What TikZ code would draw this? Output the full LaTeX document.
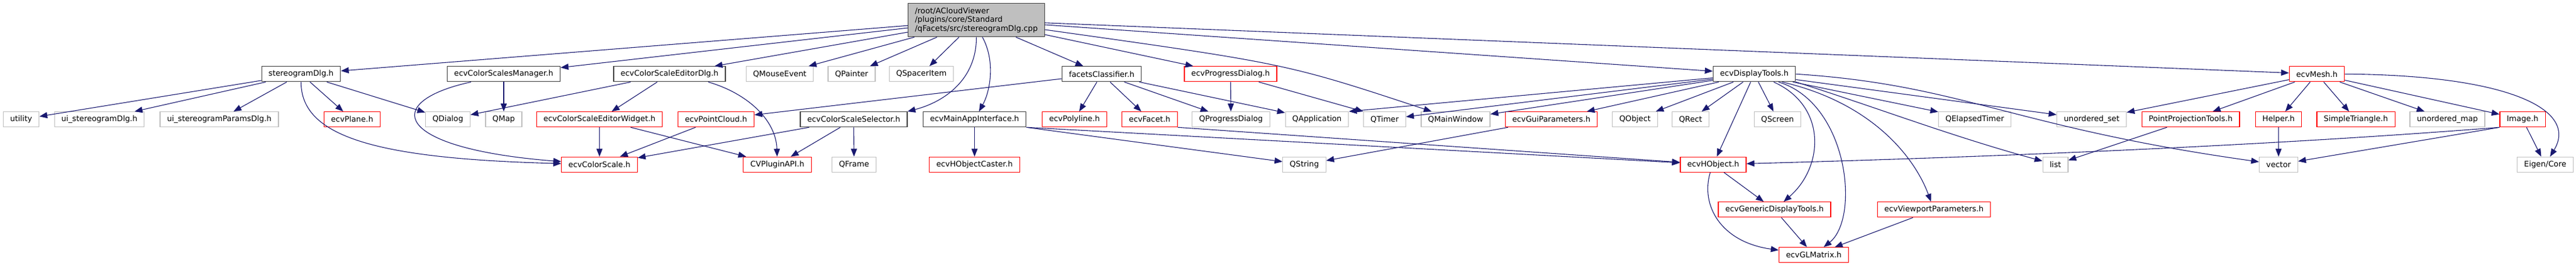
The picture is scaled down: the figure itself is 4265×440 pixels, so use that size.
\documentclass[tikz,border=0pt]{standalone}
\usepackage{fontspec}
\setmainfont{DejaVu Sans}
\usepackage{tikz}
\usetikzlibrary{arrows.meta}
\definecolor{dxred}{HTML}{FF0000}
\definecolor{dxgray}{HTML}{BFBFBF}
\definecolor{dxdark}{HTML}{404040}
\definecolor{dxedge}{HTML}{191970}
\begin{document}
\begin{tikzpicture}[x=1pt,y=-1pt,
    box/.style={draw,line width=1.2pt,font=\fontsize{12.8}{14.7}\selectfont,
        minimum height=25pt,inner xsep=11.5pt,inner ysep=0pt},
    doc/.style={box,draw=dxdark},
    trunc/.style={box,draw=dxred},
    ext/.style={box,draw=dxgray},
    dep/.style={-{Triangle[length=13pt,width=10pt]},draw=dxedge,line width=1.1pt}]
            \useasboundingbox (0,0) rectangle (4265,440);
            %\draw[very thin,color=gray] (0,0) grid[step=100] (4265,440);
            \node[doc,fill=dxgray,minimum height=55pt,align=left] (root) at (1616.5,33.2)
                {/root/ACloudViewer\\/plugins/core/Standard\\/qFacets/src/stereogramDlg.cpp};
            % includes of the .cpp
            \node[doc] (stDlg) at (498.5,122.3) {stereogramDlg.h};
            \node[doc] (csMgr) at (834,122.3) {ecvColorScalesManager.h};
            \node[doc] (csEdDlg) at (1108.5,122.3) {ecvColorScaleEditorDlg.h};
            \node[ext] (qMouse) at (1291,122.3) {QMouseEvent};
            \node[ext] (qPainter) at (1410,122.3) {QPainter};
            \node[ext] (qSpacer) at (1525.5,122.3) {QSpacerItem};
            \node[doc] (facets) at (1824,122.3) {facetsClassifier.h};
            \node[trunc] (progDlg) at (2037.5,122.3) {ecvProgressDialog.h};
            \node[doc] (dispTools) at (2904.5,122.3) {ecvDisplayTools.h};
            \node[trunc] (mesh) at (3836,122.3) {ecvMesh.h};
            % third row
            \node[ext] (utility) at (35,197.2) {utility};
            \node[ext] (uiStDlg) at (164.5,197.2) {ui\_stereogramDlg.h};
            \node[ext] (uiParDlg) at (363,197.2) {ui\_stereogramParamsDlg.h};
            \node[trunc] (plane) at (583,197.2) {ecvPlane.h};
            \node[ext] (qDialog) at (741.5,197.2) {QDialog};
            \node[ext] (qMap) at (834,197.2) {QMap};
            \node[trunc] (csEdWid) at (992.5,197.2) {ecvColorScaleEditorWidget.h};
            \node[trunc] (pointCloud) at (1185.5,197.2) {ecvPointCloud.h};
            \node[doc] (csSel) at (1413.5,197.2) {ecvColorScaleSelector.h};
            \node[doc] (mainApp) at (1613.5,197.2) {ecvMainAppInterface.h};
            \node[trunc] (polyline) at (1779,197.2) {ecvPolyline.h};
            \node[trunc] (facet) at (1903.5,197.2) {ecvFacet.h};
            \node[ext] (qProgDlg) at (2038,197.2) {QProgressDialog};
            \node[ext] (qApp) at (2180.5,197.2) {QApplication};
            \node[ext] (qTimer) at (2292.5,197.2) {QTimer};
            \node[ext] (qMainWin) at (2410,197.2) {QMainWindow};
            \node[trunc] (guiParams) at (2568.5,197.2) {ecvGuiParameters.h};
            \node[ext] (qObject) at (2707,197.2) {QObject};
            \node[ext] (qRect) at (2799,197.2) {QRect};
            \node[ext] (qScreen) at (2943,197.2) {QScreen};
            \node[ext] (qElapsed) at (3269.5,197.2) {QElapsedTimer};
            \node[ext] (uSet) at (3463,197.2) {unordered\_set};
            \node[trunc] (ppTools) at (3627,197.2) {PointProjectionTools.h};
            \node[trunc] (helper) at (3772.5,197.2) {Helper.h};
            \node[trunc] (simpleTri) at (3900.5,197.2) {SimpleTriangle.h};
            \node[ext] (uMap) at (4052,197.2) {unordered\_map};
            \node[trunc] (image) at (4176.5,197.2) {Image.h};
            % fourth row
            \node[trunc] (colScale) at (992.5,271.8) {ecvColorScale.h};
            \node[trunc] (cvPlugin) at (1287,271.8) {CVPluginAPI.h};
            \node[ext] (qFrame) at (1414,271.8) {QFrame};
            \node[trunc] (hObjCaster) at (1613.5,271.8) {ecvHObjectCaster.h};
            \node[ext] (qString) at (2159.5,271.8) {QString};
            \node[trunc] (hObj) at (2836.5,271.8) {ecvHObject.h};
            \node[ext] (list) at (3403,271.8) {list};
            \node[ext] (vector) at (3772.5,271.8) {vector};
            \node[ext] (eigen) at (4214,271.8) {Eigen/Core};
            % last rows
            \node[trunc] (genDisp) at (2938,346.3) {ecvGenericDisplayTools.h};
            \node[trunc] (viewport) at (3202,346.3) {ecvViewportParameters.h};
            \node[trunc] (glMatrix) at (3003,421.2) {ecvGLMatrix.h};

            % edges from the .cpp
            \draw[dep] (root) -- (stDlg);
            \draw[dep] (root) -- (csMgr);
            \draw[dep] (root) -- (csEdDlg);
            \draw[dep] (root) -- (qMouse);
            \draw[dep] (root) -- (qPainter);
            \draw[dep] (root) -- (qSpacer);
            \draw[dep] (root.south) .. controls (1617,130) and (1565,168) .. (csSel.north east);
            \draw[dep] ([xshift=10]root.south) .. controls (1648,100) and (1640,150) .. (mainApp);
            \draw[dep] (root) -- (facets);
            \draw[dep] (root) -- (progDlg);
            \draw[dep] (root) .. controls (2130,105) .. (qMainWin);
            \draw[dep] (root) -- (dispTools);
            \draw[dep] (root) -- (mesh);
            % stereogramDlg.h
            \draw[dep] (stDlg) -- (utility);
            \draw[dep] (stDlg) -- (uiStDlg);
            \draw[dep] (stDlg) -- (uiParDlg);
            \draw[dep] (stDlg) -- (plane);
            \draw[dep] (stDlg) -- (qDialog);
            \draw[dep] (stDlg.south) .. controls (498,225) and (620,262) .. (colScale);
            % colour scale headers
            \draw[dep] (csMgr) -- (qMap);
            \draw[dep] ([xshift=-54]csMgr.south) .. controls (630,168) and (650,245) .. (colScale);
            \draw[dep] (csEdDlg) -- (qDialog);
            \draw[dep] (csEdDlg) -- (csEdWid);
            \draw[dep] ([xshift=64]csEdDlg.south) .. controls (1240,155) and (1285,200) .. (cvPlugin);
            \draw[dep] (csEdWid) -- (colScale);
            \draw[dep] (csEdWid) -- (cvPlugin);
            \draw[dep] (pointCloud) -- (colScale);
            \draw[dep] (csSel) -- (colScale);
            \draw[dep] (csSel) -- (cvPlugin);
            \draw[dep] (csSel) -- (qFrame);
            % main app, facets, progress
            \draw[dep] (mainApp) -- (hObjCaster);
            \draw[dep] (mainApp.south east) -- (qString);
            \draw[dep] (mainApp.south east) -- (hObj);
            \draw[dep] (facets) -- (pointCloud);
            \draw[dep] (facets) -- (polyline);
            \draw[dep] (facets) -- (facet);
            \draw[dep] (facets) -- (qProgDlg);
            \draw[dep] (facets) -- (qApp);
            \draw[dep] (facet.south east) -- (hObj);
            \draw[dep] (progDlg) -- (qProgDlg);
            \draw[dep] (progDlg) -- (qTimer.north west);
            \draw[dep] (guiParams) -- (qString);
            % ecvDisplayTools.h
            \draw[dep] (dispTools) -- (qApp.north east);
            \draw[dep] (dispTools) -- (qTimer);
            \draw[dep] (dispTools) -- (qMainWin);
            \draw[dep] (dispTools) -- (guiParams);
            \draw[dep] (dispTools) -- (qObject);
            \draw[dep] (dispTools) -- (qRect);
            \draw[dep] (dispTools) -- (hObj);
            \draw[dep] (dispTools) -- (qScreen);
            \draw[dep] ([xshift=32]dispTools.south) .. controls (3025,175) and (3020,275) .. (genDisp);
            \draw[dep] ([xshift=40]dispTools.south) .. controls (3060,170) and (3080,360) .. (glMatrix);
            \draw[dep] ([xshift=46]dispTools.south) .. controls (3100,170) and (3170,260) .. (viewport);
            \draw[dep] (dispTools) -- (qElapsed);
            \draw[dep] (dispTools) -- (uSet);
            \draw[dep] (dispTools.south east) .. controls (3100,175) and (3230,225) .. (list);
            \draw[dep] (dispTools.east) .. controls (3250,140) and (3330,210) .. (vector);
            \draw[dep] (hObj) -- (genDisp);
            \draw[dep] ([xshift=-5]hObj.south) .. controls (2815,340) and (2850,400) .. (glMatrix);
            \draw[dep] (genDisp) -- (glMatrix);
            \draw[dep] (viewport) -- (glMatrix);
            % ecvMesh.h
            \draw[dep] (mesh) -- (uSet);
            \draw[dep] (mesh) -- (ppTools);
            \draw[dep] (mesh) -- (helper);
            \draw[dep] (mesh) -- (simpleTri);
            \draw[dep] (mesh) -- (uMap);
            \draw[dep] (mesh) -- (image);
            \draw[dep] (mesh.east) .. controls (4150,124) and (4270,180) .. (eigen);
            \draw[dep] (ppTools) -- (list);
            \draw[dep] (helper) -- (vector);
            \draw[dep] (image.south west) .. controls (3700,245) and (3200,262) .. (hObj);
            \draw[dep] (image.south west) -- (vector);
            \draw[dep] (image) -- (eigen);
        \end{tikzpicture}
\end{document}
